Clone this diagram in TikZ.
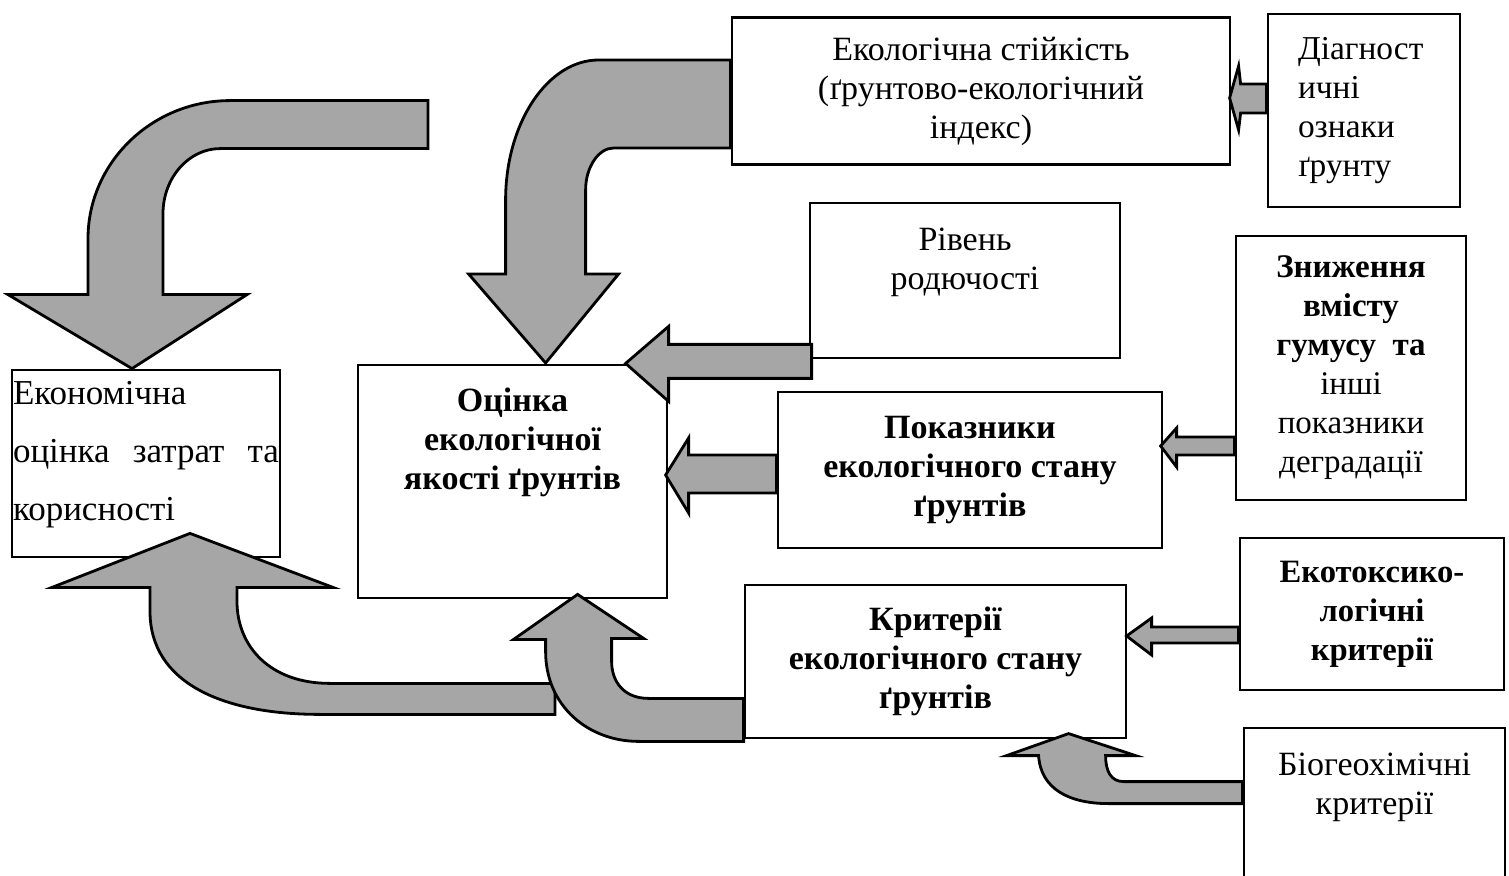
\documentclass[tikz,border=0pt]{standalone}
\usepackage{fontspec}
\setmainfont{Liberation Serif}
\usetikzlibrary{positioning}
\tikzset{
  box/.style={draw, line width=1.4pt, fill=white, inner sep=0pt, align=center,
    font=\fontsize{17}{19.5}\selectfont},
  boldbox/.style={box, font=\fontsize{17}{19.5}\selectfont\bfseries},
  txt/.style={inner sep=0pt, align=center, font=\fontsize{17}{19.5}\selectfont},
  blockarrow/.style={draw, line width=1.4pt, fill=gray!70, line join=miter}
}
\begin{document}
\begin{tikzpicture}[x=0.5pt,y=-0.5pt]
\useasboundingbox (0,0) rectangle (1509,876);
% boxes
\node[box, minimum width=249pt, minimum height=73.5pt] (ecol) at (981,91) {Екологічна стійкість\\(ґрунтово-екологічний\\індекс)};
\node[box, align=left, text width=66pt, inner xsep=15pt, minimum height=96.5pt,
  font=\fontsize{16.7}{19.5}\selectfont] (diag) at (1364,110.5) {Діагност\\ичні\\ознаки\\ґрунту};
\node[box, minimum width=155pt, minimum height=77.5pt] (riven) at (965,280.5) {};
\node[txt, below=13pt of riven.north] (rivenT) {Рівень\\родючості};
\node[box, minimum width=115pt, minimum height=132pt, font=\fontsize{16.5}{19.5}\selectfont] (znyzh) at (1351,368) {\textbf{Зниження}\\\textbf{вмісту}\\\textbf{гумусу\ \ та}\\інші\\показники\\деградації};
\node[box, minimum width=134pt, minimum height=93.5pt] (econ) at (146,463.5) {};
\node[txt, align=left, text width=133pt, font=\fontsize{17.5}{29}\selectfont, below=6pt of econ.north] (econT) {Економічна\\оцінка\hfill затрат\hfill та\\корисності};
\node[boldbox, minimum width=154.5pt, minimum height=116.5pt] (otsinka) at (512.5,481.5) {};
\node[txt, font=\fontsize{17}{19.5}\selectfont\bfseries, below=12pt of otsinka.north] (otsinkaT) {Оцінка\\екологічної\\якості ґрунтів};
\node[boldbox, minimum width=192pt, minimum height=78pt] (pokaz) at (970,470) {Показники\\екологічного стану\\ґрунтів};
\node[boldbox, minimum width=190.5pt, minimum height=76.5pt] (kryt) at (935.5,661.5) {Критерії\\екологічного стану\\ґрунтів};
\node[boldbox, minimum width=132pt, minimum height=76pt, font=\fontsize{16.3}{19.5}\selectfont\bfseries] (ekotox) at (1372,614) {Екотоксико-\\логічні\\критерії};
\node[box, minimum width=130.5pt, minimum height=86pt] (biogeo) at (1374.5,814) {};
\node[txt, below=13pt of biogeo.north] (biogeoT) {Біогеохімічні\\критерії};
% block arrows
\draw[blockarrow, shift={(econ.north)}] (282,-268) -- (84,-268) .. controls (6,-268) and (-58,-206) .. (-58,-130) -- (-58,-74) -- (-138,-74) -- (-14,0) -- (101,-74) -- (17,-74) -- (17,-155) .. controls (17,-191) and (43,-220) .. (74,-220) -- (282,-220) -- cycle;
\draw[blockarrow, shift={(ecol.west)}] (0,-31) -- (-132,-31) .. controls (-183,-31) and (-225,32) .. (-225,109) -- (-225,183) -- (-262,183) -- (-185,272) -- (-112,183) -- (-145,183) -- (-145,99) .. controls (-145,76) and (-132,57) .. (-117,57) -- (0,57) -- cycle;
\draw[blockarrow, shift={(riven.south west)}] (3,-15) -- (-140,-15) -- (-140,-33) -- (-183,4) -- (-140,42) -- (-140,19) -- (3,19) -- cycle;
\draw[blockarrow, shift={(pokaz.west)}] (0,-15) -- (-88,-15) -- (-88,-32) -- (-111,5) -- (-88,43) -- (-88,23) -- (0,23) -- cycle;
\draw[blockarrow, shift={(diag.west)}] (0,-26.5) -- (-26,-26.5) -- (-28,-44.5) -- (-37,-12.5) -- (-28,19.5) -- (-26,2.5) -- (0,2.5) -- cycle;
\draw[blockarrow, shift={(znyzh.west)}] (0,69) -- (-58,69) -- (-58,60) -- (-74,78) -- (-58,99) -- (-58,87) -- (0,87) -- cycle;
\draw[blockarrow, shift={(ekotox.west)}] (0,13) -- (-87,13) -- (-87,4) -- (-112,22) -- (-87,41) -- (-87,29) -- (0,29) -- cycle;
\draw[blockarrow, shift={(biogeo.north west)}] (0,55) -- (-119,55) .. controls (-132,55) and (-137,44) .. (-137,29) -- (-107,29) -- (-174,7) -- (-236,29) -- (-204,29) .. controls (-202,62) and (-174,77) .. (-134,77) -- (0,77) -- cycle;
\draw[blockarrow, shift={(econ.south)}] (409,125) -- (184,125) .. controls (124,125) and (91,88) .. (91,43) -- (91,29) -- (187,29) -- (44,-25) -- (-94,29) -- (4,29) -- (4,53) .. controls (4,123) and (74,156) .. (174,156) -- (409,156) -- cycle;
\draw[blockarrow, shift={(kryt.south west)}] (0,-41) -- (-95,-41) .. controls (-120,-41) and (-132,-58) .. (-132,-78) -- (-132,-101) -- (-100,-101) -- (-166,-145) -- (-230,-100) -- (-198,-100) -- (-198,-88) .. controls (-198,-33) and (-155,2) .. (-105,2) -- (0,2) -- cycle;
\end{tikzpicture}
\end{document}
